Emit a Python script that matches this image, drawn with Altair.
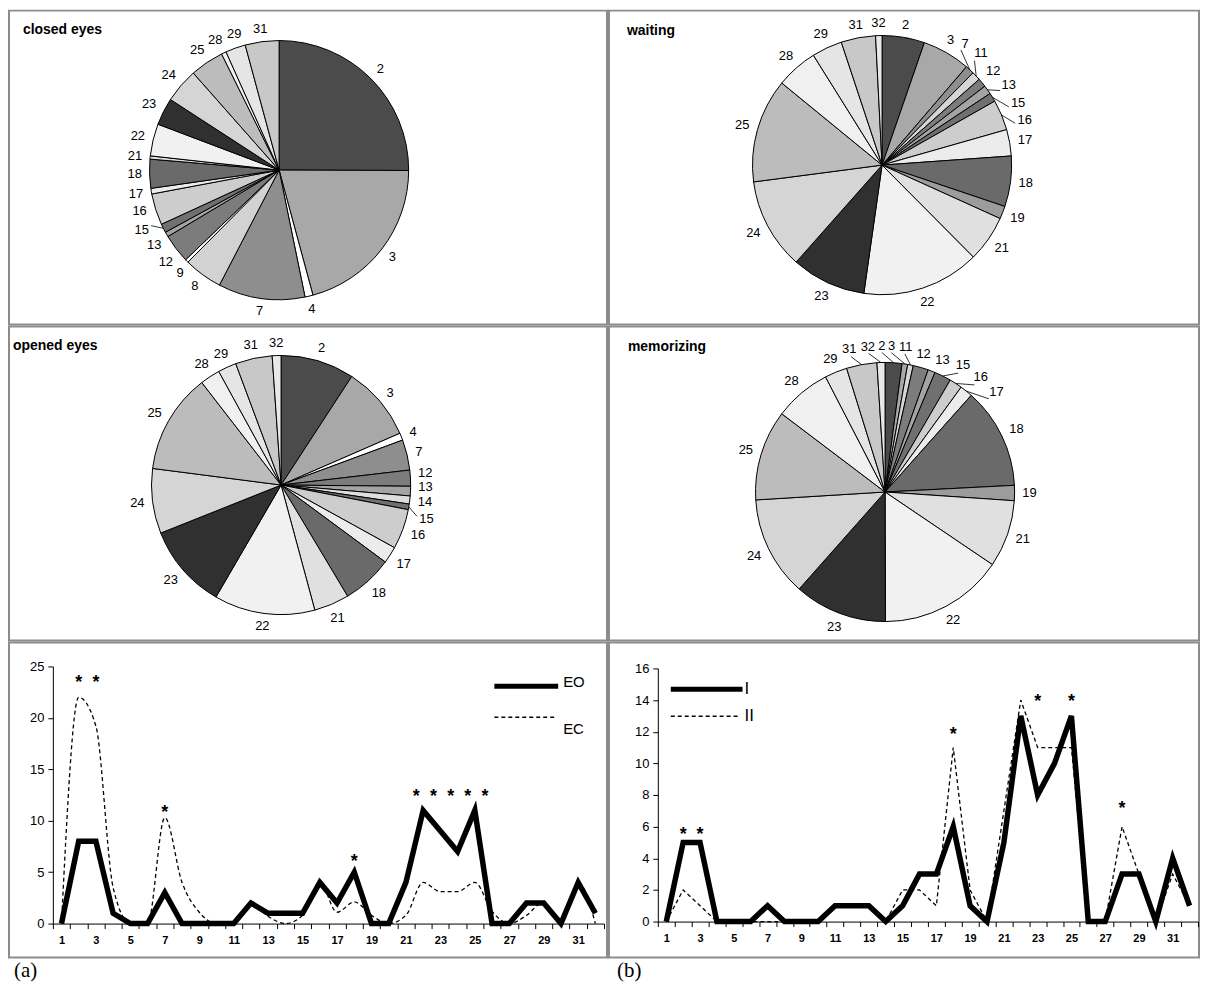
import math
import altair as alt
import pandas as pd

# ---------------- data ----------------
CATEGORIES = list(range(1, 33))
EO_VALUES = [0, 8, 8, 1, 0, 0, 3, 0, 0, 0, 0, 2, 1, 1, 1, 4, 2, 5, 0, 0, 4, 11, 9, 7, 11, 0, 0, 2, 2, 0, 4, 1]
EC_VALUES = [0, 22, 19.2, 3.5, 0, 0, 10.3, 4, 1.1, 0, 0, 2, 0.7, 0, 0.8, 4, 1.1, 2.1, 0.8, 0, 0.8, 4, 3.1, 3.1, 4, 1.2, 0, 0.8, 2.1, 0, 4, 0]
I_VALUES = [0, 5, 5, 0, 0, 0, 1, 0, 0, 0, 1, 1, 1, 0, 1, 3, 3, 6, 1, 0, 5, 13, 8, 10, 13, 0, 0, 3, 3, 0, 4, 1]
II_VALUES = [0, 2, 1, 0, 0, 0, 0, 0, 0, 0, 1, 1, 1, 0, 2, 2, 1, 11, 2, 0, 7, 14, 11, 11, 11, 0, 0, 6, 3, 0, 3, 1]

STAR_A_X = [2, 3, 7, 18]
STAR_A_Y = [23.4, 23.4, 10.7, 6.0]
STAR_A2_X = [22, 23, 24, 25, 26]
STAR_A2_Y = [12.3, 12.3, 12.3, 12.3, 12.3]
STAR_B_X = [2, 3, 18, 23, 25, 28]
STAR_B_Y = [5.5, 5.5, 11.8, 13.9, 13.9, 7.1]

CLOSED_CATS = [2, 3, 4, 7, 8, 9, 12, 13, 15, 16, 17, 18, 21, 22, 23, 24, 25, 28, 29, 31]
CLOSED_VALS = [25.0, 20.7, 1.0, 10.8, 4.8, 0.4, 3.6, 0.6, 1.1, 3.9, 0.7, 3.6, 0.4, 4.0, 3.4, 4.3, 4.2, 0.6, 2.5, 4.2]

WAIT_CATS = [2, 3, 7, 11, 12, 13, 15, 16, 17, 18, 19, 21, 22, 23, 24, 25, 28, 29, 31, 32]
WAIT_VALS = [5.3, 6.0, 1.1, 1.1, 1.1, 1.1, 1.1, 3.8, 3.3, 6.3, 1.6, 5.8, 14.7, 9.3, 11.4, 13.0, 5.2, 3.8, 4.3, 0.8]

OPEN_CATS = [2, 3, 4, 7, 12, 13, 14, 15, 16, 17, 18, 21, 22, 23, 24, 25, 28, 29, 31, 32]
OPEN_VALS = [9.2, 9.3, 0.9, 3.8, 2.0, 1.2, 1.0, 0.7, 5.0, 2.1, 6.3, 4.4, 12.6, 10.6, 8.1, 12.5, 2.5, 2.3, 4.6, 1.1]

MEM_CATS = [2, 3, 11, 12, 13, 15, 16, 17, 18, 19, 21, 22, 23, 24, 25, 28, 29, 31, 32]
MEM_VALS = [2.1, 0.7, 0.7, 1.9, 0.9, 2.1, 1.6, 1.6, 12.6, 1.9, 8.4, 15.5, 11.6, 12.5, 11.3, 7.1, 2.8, 3.8, 1.0]

ALL_SLICES = ["2", "3", "4", "7", "8", "9", "11", "12", "13", "14", "15", "16", "17", "18",
              "19", "21", "22", "23", "24", "25", "28", "29", "31", "32"]
SLICE_FILLS = ["#4b4b4b", "#a8a8a8", "#ffffff", "#8e8e8e", "#d2d2d2", "#ffffff", "#d6d6d6",
               "#7c7c7c", "#a4a4a4", "#dedede", "#707070", "#cdcdcd", "#ececec", "#6a6a6a",
               "#9c9c9c", "#e0e0e0", "#f1f1f1", "#303030", "#d5d5d5", "#bcbcbc", "#f0f0f0",
               "#e5e5e5", "#c8c8c8", "#e8e8e8"]

FONT = "Liberation Sans"
LW, RW = 600, 592
H1, H2, H3, H4 = 315, 315, 316, 24
R = 130
FS = 13
BORDER = alt.ViewBackground(stroke="#8c8c8c", strokeWidth=2)


def label_layout(cats, vals, cx, cy):
    """Spread slice labels around the pie so they do not overlap."""
    labels = [str(c) for c in cats]
    tot = float(sum(vals))
    mids, cum = [], 0.0
    for v in vals:
        mids.append(2 * math.pi * (cum + v / 2.0) / tot)
        cum += v
    widths = [0.56 * FS * len(s) + 1 for s in labels]
    hh = 0.95 * FS
    ang = mids[:]
    n = len(ang)
    rl = R + 14

    def ext(k, th):
        return abs(widths[k] * math.cos(th)) + abs(hh * math.sin(th))

    for _ in range(800):
        for i in range(n):
            j = (i + 1) % n
            a = ang[i]
            b = ang[j] + (2 * math.pi if j == 0 else 0.0)
            need = ((ext(i, a) + ext(j, b)) / 2.0 + 1.0) / rl
            gap = b - a
            if gap < need:
                d = (need - gap) / 4.0
                ang[i] -= d
                ang[j] += d
    rows = []
    for k in range(n):
        th = ang[k]
        rad_ext = abs(widths[k] * math.sin(th)) + abs(0.78 * FS * math.cos(th))
        r_lab = R + 7 + rad_ext / 2.0
        moved = abs(th - mids[k]) > 0.05
        if moved:
            r_lab += 4
        r_in = r_lab - rad_ext / 2.0 - 1
        rows.append(dict(
            cat=labels[k], val=vals[k], ord=k,
            lx=cx + r_lab * math.sin(th), ly=cy - r_lab * math.cos(th),
            ex=cx + R * math.sin(mids[k]), ey=cy - R * math.cos(mids[k]),
            kx=cx + r_in * math.sin(th), ky=cy - r_in * math.cos(th),
            lead=moved,
        ))
    return pd.DataFrame(rows)


def pie_panel(title, cats, vals, cx, cy, w, h, tx, ty):
    df = label_layout(cats, vals, cx, cy)
    base = alt.Chart(df)
    arcs = base.mark_arc(radius=R, stroke="black", strokeWidth=1.0).encode(
        theta=alt.Theta("val:Q", stack=True),
        order=alt.Order("ord:Q"),
        color=alt.Color("cat:N", scale=alt.Scale(domain=ALL_SLICES, range=SLICE_FILLS), legend=None),
        x=alt.value(cx),
        y=alt.value(cy),
    )
    leaders = base.transform_filter("datum.lead").mark_rule(color="black", strokeWidth=0.8).encode(
        x=alt.X("ex:Q", scale=None), y=alt.Y("ey:Q", scale=None),
        x2="kx:Q", y2="ky:Q",
    )
    labels = base.mark_text(fontSize=FS, font=FONT, color="black", baseline="middle").encode(
        x=alt.X("lx:Q", scale=None),
        y=alt.Y("ly:Q", scale=None),
        text="cat:N",
    )
    ttl = alt.Chart(pd.DataFrame({"t": [title]})).mark_text(
        fontSize=14, fontWeight="bold", font=FONT, align="left", baseline="middle", color="black"
    ).encode(text="t:N", x=alt.value(tx), y=alt.value(ty))
    return alt.layer(arcs, leaders, labels, ttl).properties(width=w, height=h, view=BORDER)


def line_panel(s_thick, s_dash, ymax, ystep, xr, yr, w, h, dash_interp, stars, stars2,
               leg_thick, leg_dash, leg_x0, leg_x1, leg_y1, leg_y2, leg_tx, leg_ty1, leg_ty2, leg_fs):
    step = (xr[1] - xr[0]) / 32.0
    tick_vals = [c - 0.5 for c in CATEGORIES] + [32.5]
    xaxis = alt.Axis(
        values=tick_vals,
        labelExpr="datum.value < 32 && (datum.value + 0.5) % 2 == 1 ? format(datum.value + 0.5, 'd') : ''",
        labelOffset={"condition": {"test": "datum.value > 32", "value": 0}, "value": step / 2},
        labelOverlap=False, labelFlush=False, labelBound=False,
        offset=yr[0] - h, title=None, grid=False, tickSize=5, labelFontSize=11,
        labelFontWeight="bold", labelPadding=6, domainColor="black", tickColor="black",
        labelColor="black", labelFont=FONT,
    )
    yaxis = alt.Axis(
        values=list(range(0, ymax + 1, ystep)), offset=-xr[0], title=None, grid=False,
        tickSize=5, labelFontSize=13, labelPadding=4, domainColor="black", tickColor="black",
        labelColor="black", labelFont=FONT,
    )
    xs = alt.Scale(domain=[0.5, 32.5], range=list(xr), nice=False, zero=False)
    ys = alt.Scale(domain=[0, ymax], range=list(yr), nice=False)
    df = pd.DataFrame({"cat": CATEGORIES, "thick": s_thick, "dash": s_dash})
    base = alt.Chart(df)
    dash = base.mark_line(color="black", strokeWidth=1.3, strokeDash=[4, 3], interpolate=dash_interp).encode(
        x=alt.X("cat:Q", scale=xs, axis=xaxis), y=alt.Y("dash:Q", scale=ys, axis=yaxis))
    thick = base.mark_line(color="black", strokeWidth=5.5, strokeJoin="miter").encode(
        x=alt.X("cat:Q", scale=xs, axis=xaxis), y=alt.Y("thick:Q", scale=ys, axis=yaxis))
    layers = [dash, thick]
    sx, sy = stars
    st = alt.Chart(pd.DataFrame({"cat": sx, "v": sy})).mark_text(
        text="*", fontSize=18, fontWeight="bold", font=FONT, baseline="middle", color="black"
    ).encode(x=alt.X("cat:Q", scale=xs, axis=xaxis), y=alt.Y("v:Q", scale=ys, axis=yaxis))
    layers.append(st)
    if stars2 is not None:
        sx2, sy2 = stars2
        st2 = alt.Chart(pd.DataFrame({"cat": sx2, "v": sy2})).mark_text(
            text="*", fontSize=18, fontWeight="bold", font=FONT, baseline="middle", color="black", dx=-7
        ).encode(x=alt.X("cat:Q", scale=xs, axis=xaxis), y=alt.Y("v:Q", scale=ys, axis=yaxis))
        layers.append(st2)
    leg = pd.DataFrame({"name": [leg_thick]})
    r1 = alt.Chart(leg).mark_rule(color="black", strokeWidth=5).encode(
        x=alt.value(leg_x0), x2=alt.value(leg_x1), y=alt.value(leg_y1))
    r2 = alt.Chart(leg).mark_rule(color="black", strokeWidth=1.3, strokeDash=[4, 3]).encode(
        x=alt.value(leg_x0), x2=alt.value(leg_x1 - 3), y=alt.value(leg_y2))
    t1 = alt.Chart(pd.DataFrame({"t": [leg_thick]})).mark_text(
        fontSize=leg_fs, font=FONT, align="left", baseline="middle", color="black"
    ).encode(text="t:N", x=alt.value(leg_tx), y=alt.value(leg_ty1))
    t2 = alt.Chart(pd.DataFrame({"t": [leg_dash]})).mark_text(
        fontSize=leg_fs, font=FONT, align="left", baseline="middle", color="black"
    ).encode(text="t:N", x=alt.value(leg_tx), y=alt.value(leg_ty2))
    layers += [r1, r2, t1, t2]
    return alt.layer(*layers).properties(width=w, height=h, view=BORDER)


def tag(label, w, h, x):
    return alt.Chart(pd.DataFrame({"t": [label]})).mark_text(
        fontSize=21, font="Liberation Serif", align="left", baseline="middle", color="black"
    ).encode(text="t:N", x=alt.value(x), y=alt.value(13)).properties(width=w, height=h)


p1 = pie_panel("closed eyes", CLOSED_CATS, CLOSED_VALS, 271, 160, LW, H1, 14, 19)
p2 = pie_panel("waiting", WAIT_CATS, WAIT_VALS, 274, 155, RW, H1, 18, 20)
p3 = pie_panel("opened eyes", OPEN_CATS, OPEN_VALS, 273, 159, LW, H2, 4, 20)
p4 = pie_panel("memorizing", MEM_CATS, MEM_VALS, 277, 166, RW, H2, 19, 21)

la = line_panel(EO_VALUES, EC_VALUES, 25, 5, (44, 597), (282, 24), LW, H3, "monotone",
                (STAR_A_X, STAR_A_Y), (STAR_A2_X, STAR_A2_Y),
                "EO", "EC", 487, 551, 44, 75, 556, 40, 87, 15)
lb = line_panel(I_VALUES, II_VALUES, 16, 2, (49, 591), (280, 26), RW, H3, "linear",
                (STAR_B_X, STAR_B_Y), None,
                "I", "II", 62, 134, 47, 74, 136, 47, 74, 17)

chart = alt.vconcat(
    alt.hconcat(p1, p2, spacing=0),
    alt.hconcat(p3, p4, spacing=0),
    alt.hconcat(la, lb, spacing=0),
    alt.hconcat(tag("(a)", LW, H4, 5), tag("(b)", RW, H4, 10), spacing=0),
    spacing=0,
).properties(padding=0).configure(font=FONT).configure_view(stroke=None)

chart.save("out.html", embed_options={"renderer": "svg", "actions": False})
